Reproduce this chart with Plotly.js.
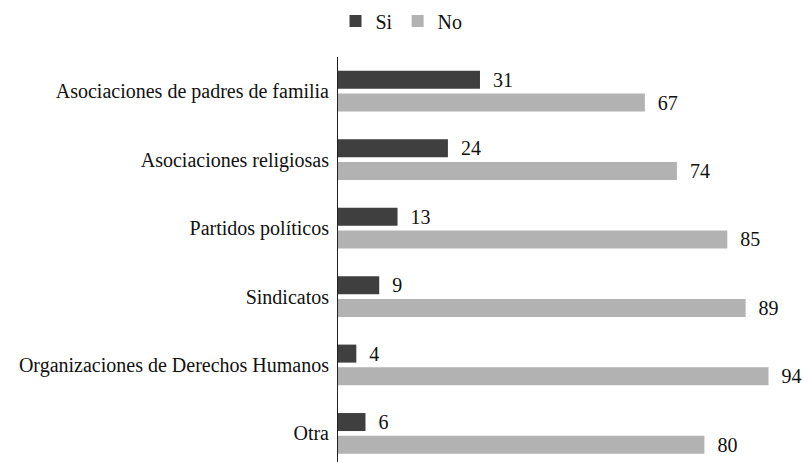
<!DOCTYPE html>
<html>
<head>
<meta charset="utf-8">
<script src="https://cdn.plot.ly/plotly-3.0.1.min.js"></script>
<style>html,body{margin:0;padding:0;background:#fff;}#chart{width:803px;height:462px;}</style>
</head>
<body>
<div id="chart"></div>
<script>
var categories = ["Asociaciones de padres de familia","Asociaciones religiosas","Partidos políticos","Sindicatos","Organizaciones de Derechos Humanos","Otra"];
var siValues = [31, 24, 13, 9, 4, 6];
var noValues = [67, 74, 85, 89, 94, 80];
var seriesNames = ["Si", "No"];

var fontFam = "'Liberation Serif', serif";
var pad = "\u00a0\u00a0";
function mk(name, vals, color) {
  return {
    type: "bar", orientation: "h", name: name,
    y: categories, x: vals,
    marker: {color: color},
    text: vals.map(function(v){ return pad + v; }),
    textposition: "outside",
    constraintext: "none",
    textfont: {family: fontFam, size: 20, color: "#111"},
    cliponaxis: false,
    hoverinfo: "none"
  };
}
var data = [mk(seriesNames[0], siValues, "#3f3f3f"), mk(seriesNames[1], noValues, "#b2b2b2")];
var layout = {
  width: 803, height: 462,
  margin: {l: 338, r: 7, t: 57, b: 0},
  barmode: "group", bargap: 0.336, bargroupgap: 0.207,
  font: {family: fontFam, size: 20, color: "#111"},
  showlegend: true,
  legend: {orientation: "h", x: 0.5, xref: "container", xanchor: "center", y: 0.9545, yref: "container", yanchor: "middle", traceorder: "normal", font: {family: fontFam, size: 20}, itemwidth: 30, tracegroupgap: 0},
  xaxis: {range: [0, 100], showgrid: false, zeroline: false, showticklabels: false, showline: false, ticks: ""},
  yaxis: {type: "category", range: [5.418, -0.5], showline: true, linecolor: "#222", linewidth: 1, showgrid: false, zeroline: false, ticks: "", ticklabelstandoff: 4, tickfont: {family: fontFam, size: 20, color: "#111"}},
  plot_bgcolor: "#fff", paper_bgcolor: "#fff"
};
Plotly.newPlot("chart", data, layout, {staticPlot: true});
</script>
</body>
</html>
